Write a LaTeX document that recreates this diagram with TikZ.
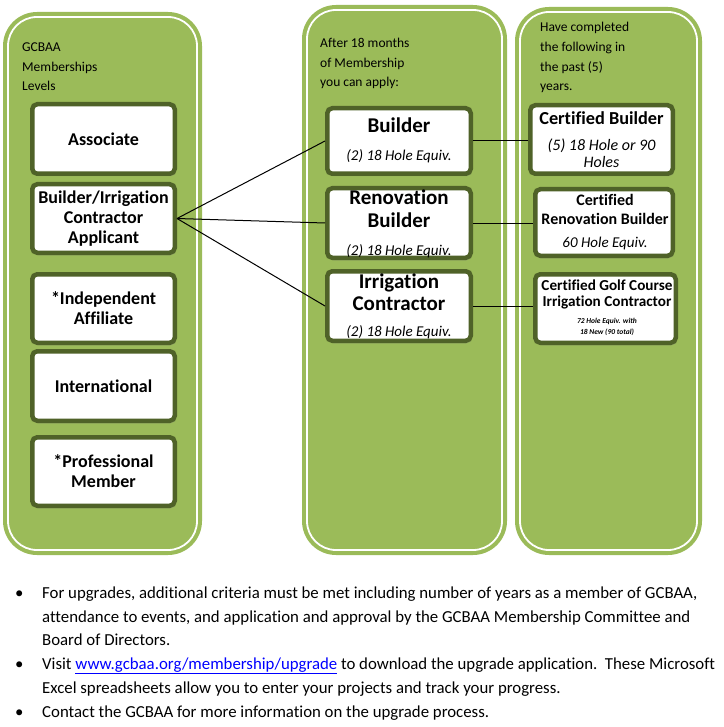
\documentclass[tikz,border=0pt]{standalone}
\usepackage{fontspec}
\setmainfont{Carlito}[Ligatures=NoCommon]
\usetikzlibrary{shadows}
\definecolor{panelgreen}{RGB}{155,187,89}
\definecolor{boxgreen}{RGB}{79,98,40}
\definecolor{linkblue}{RGB}{0,0,255}
\begin{document}
\begin{tikzpicture}[x=1pt,y=-1pt,
  panel/.style={fill=panelgreen, draw=none, rounded corners=34pt, inner sep=0pt},
  panelline/.style={draw=white, line width=1.8pt, rounded corners=29pt, inner sep=0pt},
  box/.style={draw=boxgreen, line width=4.5pt, fill=white, rounded corners=5pt, inner sep=0pt, align=center,
    drop shadow={shadow xshift=1pt, shadow yshift=-2.5pt, opacity=0.4}},
  lbox/.style={box, minimum width=142.5pt, font=\fontsize{18}{20}\selectfont\bfseries},
  hdr/.style={anchor=base west, inner sep=0pt, font=\fontsize{13.5}{16}\selectfont},
  mtitle/.style={anchor=base, inner sep=0pt, font=\fontsize{21}{22}\selectfont\bfseries},
  msub/.style={anchor=base, inner sep=0pt, font=\fontsize{15}{17}\selectfont\itshape},
  txt/.style={anchor=base, inner sep=0pt},
  bul/.style={anchor=base west, inner sep=0pt, font=\fontsize{16.8}{19}\selectfont},
  conn/.style={draw=black, line width=1pt}
]
\useasboundingbox (0,0) rectangle (723,727);

% panels
\node[panel, minimum width=199pt, minimum height=543pt] (p1) at (102.5,283.5) {};
\node[panelline, minimum width=189pt, minimum height=533pt] (p1i) at (102.5,283.5) {};
\node[panel, minimum width=205pt, minimum height=550pt] (p2) at (404.5,280) {};
\node[panelline, minimum width=195pt, minimum height=540pt] (p2i) at (404.5,280) {};
\node[panel, minimum width=187pt, minimum height=548pt] (p3) at (608.5,281) {};
\node[panelline, minimum width=177pt, minimum height=538pt] (p3i) at (608.5,281) {};

% headers
\node[hdr] (h1a) at (22,52) {GCBAA};
\node[hdr] (h1b) at (22,71.5) {Memberships};
\node[hdr] (h1c) at (22,91) {Levels};
\node[hdr] (h2a) at (320,48) {After 18 months};
\node[hdr] (h2b) at (320,68) {of Membership};
\node[hdr] (h2c) at (320,87) {you can apply:};
\node[hdr] (h3a) at (540,32) {Have completed};
\node[hdr] (h3b) at (540,52) {the following in};
\node[hdr] (h3c) at (540,72) {the past (5)};
\node[hdr] (h3d) at (540,91) {years.};

% left column
\node[lbox, minimum height=69.5pt] (assoc) at (103.5,139) {Associate};
\node[lbox, minimum height=68.5pt] (bic) at (103.5,218.5) {Builder/Irrigation\\Contractor\\Applicant};
\node[lbox, minimum height=68.5pt] (indep) at (103.5,308.5) {*Independent\\Affiliate};
\node[lbox, minimum height=69.5pt] (intl) at (103.5,386) {International};
\node[lbox, minimum height=68.5pt] (prof) at (103.5,471.5) {*Professional\\Member};

% middle column
\node[box, minimum width=143.5pt, minimum height=65.5pt] (builder) at (399,141) {};
\node[box, minimum width=143.5pt, minimum height=69.5pt] (renov) at (399,223) {};
\node[box, minimum width=143.5pt, minimum height=69.5pt] (irrig) at (399,306) {};
\node[mtitle] (t1) at (399,133) {Builder};
\node[msub] (s1) at (399,160.5) {(2) 18 Hole Equiv.};
\node[mtitle] (t2a) at (399,205) {Renovation};
\node[mtitle] (t2b) at (399,227) {Builder};
\node[msub] (s2) at (399,255.5) {(2) 18 Hole Equiv.};
\node[mtitle] (t3a) at (399,288) {Irrigation};
\node[mtitle] (t3b) at (399,310) {Contractor};
\node[msub] (s3) at (399,336.5) {(2) 18 Hole Equiv.};

% right column
\node[box, minimum width=142.5pt, minimum height=68.5pt] (cb) at (601.5,139.5) {};
\node[box, minimum width=137.5pt, minimum height=66.5pt] (crb) at (604,222.5) {};
\node[box, minimum width=140.5pt, minimum height=68.5pt] (cgc) at (605.5,308.5) {};
\node[txt, font=\fontsize{18.3}{20}\selectfont\bfseries] (r1a) at (601.5,124.5) {Certified Builder};
\node[txt, font=\fontsize{16}{18}\selectfont\itshape] (r1b) at (601.5,151) {(5) 18 Hole or 90};
\node[txt, font=\fontsize{16}{18}\selectfont\itshape] (r1c) at (601.5,168) {Holes};
\node[txt, font=\fontsize{16}{18}\selectfont\bfseries] (r2a) at (605,206) {Certified};
\node[txt, font=\fontsize{16}{18}\selectfont\bfseries] (r2b) at (605,224) {Renovation Builder};
\node[txt, font=\fontsize{15}{17}\selectfont\itshape] (r2c) at (605,247.5) {60 Hole Equiv.};
\node[txt, font=\fontsize{15.2}{17}\selectfont\bfseries] (r3a) at (607,290.5) {Certified Golf Course};
\node[txt, font=\fontsize{15.2}{17}\selectfont\bfseries] (r3b) at (607,306.5) {Irrigation Contractor};
\node[txt, font=\fontsize{7.5}{9}\selectfont\bfseries\itshape] (r3c) at (607,323.5) {72 Hole Equiv. with};
\node[txt, font=\fontsize{7.5}{9}\selectfont\bfseries\itshape] (r3d) at (607,334.5) {18 New (90 total)};

% connectors
\draw[conn] (bic.east) -- (builder.west);
\draw[conn] (bic.east) -- (renov.west);
\draw[conn] (bic.east) -- (irrig.west);
\draw[conn] (builder.east) -- (builder.east -| cb.west);
\draw[conn] (renov.east) -- (renov.east -| crb.west);
\draw[conn] (irrig.east) -- (irrig.east -| cgc.west);

% bullets
\node[bul] (b1) at (15,598) {\textbullet};
\node[bul] (b2) at (15,669) {\textbullet};
\node[bul] (b3) at (15,717) {\textbullet};
\node[bul] (l1) at (42,598) {For upgrades, additional criteria must be met including number of years as a member of GCBAA,};
\node[bul] (l2) at (42,622) {attendance to events, and application and approval by the GCBAA Membership Committee and};
\node[bul] (l3) at (42,645) {Board of Directors.};
\node[bul] (l4) at (42,669) {Visit \textcolor{linkblue}{\underline{www.gcbaa.org/membership/upgrade}} to download the upgrade application.\ \ These Microsoft};
\node[bul] (l5) at (42,693) {Excel spreadsheets allow you to enter your projects and track your progress.};
\node[bul] (l6) at (42,717) {Contact the GCBAA for more information on the upgrade process.};
\end{tikzpicture}
\end{document}
